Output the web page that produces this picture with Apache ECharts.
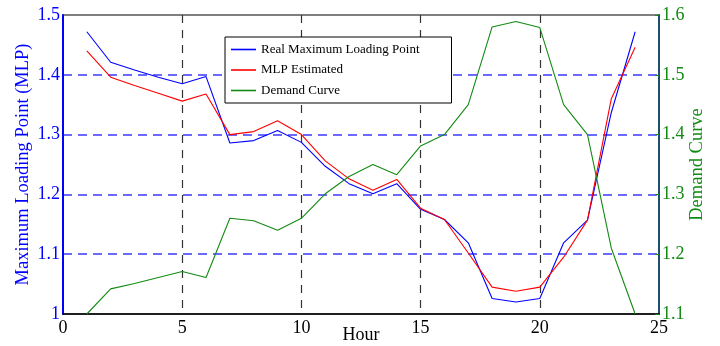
<!DOCTYPE html>
<html>
<head>
<meta charset="utf-8">
<script src="https://cdn.jsdelivr.net/npm/echarts@6/dist/echarts.min.js"></script>
<style>
  html, body { margin: 0; padding: 0; background: #fff; }
  #chart { width: 720px; height: 346px; }
</style>
</head>
<body>
<div id="chart"></div>
<script>
  // hours 1..24
  const hours = [1,2,3,4,5,6,7,8,9,10,11,12,13,14,15,16,17,18,19,20,21,22,23,24];
  const realMLP = [1.472,1.421,1.408,1.396,1.385,1.397,1.286,1.290,1.307,1.287,1.247,1.218,1.201,1.218,1.175,1.158,1.119,1.026,1.020,1.026,1.119,1.157,1.337,1.472];
  const estMLP  = [1.440,1.396,1.382,1.369,1.356,1.368,1.300,1.305,1.323,1.300,1.256,1.226,1.207,1.225,1.177,1.158,1.102,1.045,1.038,1.045,1.095,1.157,1.360,1.446];
  const demand  = [1.100,1.142,1.151,1.161,1.171,1.161,1.260,1.256,1.240,1.260,1.301,1.330,1.350,1.333,1.381,1.400,1.450,1.580,1.589,1.579,1.450,1.400,1.210,1.100];
  const xTicks = [0,5,10,15,20,25];

  const serif = '"Liberation Serif", "DejaVu Serif", serif';
  const pairs = arr => hours.map((h, i) => [h, arr[i]]);
  // plain short line for the legend keys (no marker)
  const lineIcon = 'path://M0,0L25,0L25,1.6L0,1.6Z';

  const chart = echarts.init(document.getElementById('chart'));
  chart.setOption({
    animation: false,
    backgroundColor: '#fff',
    textStyle: { fontFamily: serif },
    grid: {
      left: 63, right: 61, top: 15, bottom: 32,
      containLabel: false,
      outerBoundsMode: 'none',
      show: true, borderColor: '#000', borderWidth: 1.2
    },
    legend: {
      orient: 'vertical',
      left: 225, top: 37,
      padding: [6, 32, 6, 6],
      itemWidth: 25, itemHeight: 14, itemGap: 7.5,
      icon: lineIcon,
      borderColor: '#000', borderWidth: 1,
      backgroundColor: '#fff',
      textStyle: { fontFamily: serif, fontSize: 13, color: '#000' },
      data: ['Real Maximum Loading Point', 'MLP Estimated', 'Demand Curve']
    },
    xAxis: {
      type: 'value',
      min: xTicks[0], max: xTicks[xTicks.length - 1], interval: 5,
      name: 'Hour',
      nameLocation: 'middle',
      nameGap: 12,
      nameMoveOverlap: false,
      nameTextStyle: { fontFamily: serif, fontSize: 18, color: '#000' },
      axisLine: { show: true, lineStyle: { color: '#000', width: 1.5 } },
      axisTick: { show: false },
      axisLabel: { fontFamily: serif, fontSize: 18, color: '#000', margin: 5 },
      splitLine: {
        show: true, showMinLine: false, showMaxLine: false,
        lineStyle: { color: '#333', type: [8, 7], width: 1.2 }
      }
    },
    yAxis: [{
      type: 'value',
      min: 1, max: 1.5, interval: 0.1,
      name: 'Maximum Loading Point (MLP)',
      nameLocation: 'middle',
      nameGap: 30,
      nameRotate: 90,
      nameMoveOverlap: false,
      nameTextStyle: { fontFamily: serif, fontSize: 18.5, color: '#0000ff' },
      axisLine: { show: true, lineStyle: { color: '#0000ff', width: 2 } },
      axisTick: { show: false },
      axisLabel: {
        fontFamily: serif, fontSize: 18, color: '#0000ff', margin: 3,
        formatter: v => (Math.round(v * 10) / 10).toString()
      },
      splitLine: {
        show: true, showMinLine: false, showMaxLine: false,
        lineStyle: { color: '#3a3aff', type: [9, 6], width: 1.6 }
      }
    }, {
      type: 'value',
      position: 'right',
      min: 1.1, max: 1.6, interval: 0.1,
      name: 'Demand Curve',
      nameLocation: 'middle',
      nameGap: 29,
      nameRotate: 90,
      nameMoveOverlap: false,
      nameTextStyle: { fontFamily: serif, fontSize: 18.5, color: '#138a13' },
      axisLine: { show: true, lineStyle: { color: '#1e4f6e', width: 2 } },
      axisTick: { show: true, inside: true, length: 4, lineStyle: { color: '#138a13' } },
      axisLabel: {
        fontFamily: serif, fontSize: 18, color: '#138a13', margin: 3,
        formatter: v => (Math.round(v * 10) / 10).toString()
      },
      splitLine: { show: false }
    }],
    series: [{
      name: 'Real Maximum Loading Point',
      type: 'line',
      yAxisIndex: 0,
      symbol: 'none',
      data: pairs(realMLP),
      lineStyle: { color: '#0000ff', width: 1.1 },
      itemStyle: { color: '#0000ff' }
    }, {
      name: 'MLP Estimated',
      type: 'line',
      yAxisIndex: 0,
      symbol: 'none',
      data: pairs(estMLP),
      lineStyle: { color: '#ff0000', width: 1.1 },
      itemStyle: { color: '#ff0000' }
    }, {
      name: 'Demand Curve',
      type: 'line',
      yAxisIndex: 1,
      symbol: 'none',
      data: pairs(demand),
      lineStyle: { color: '#138a13', width: 1.1 },
      itemStyle: { color: '#138a13' }
    }]
  });
</script>
</body>
</html>
